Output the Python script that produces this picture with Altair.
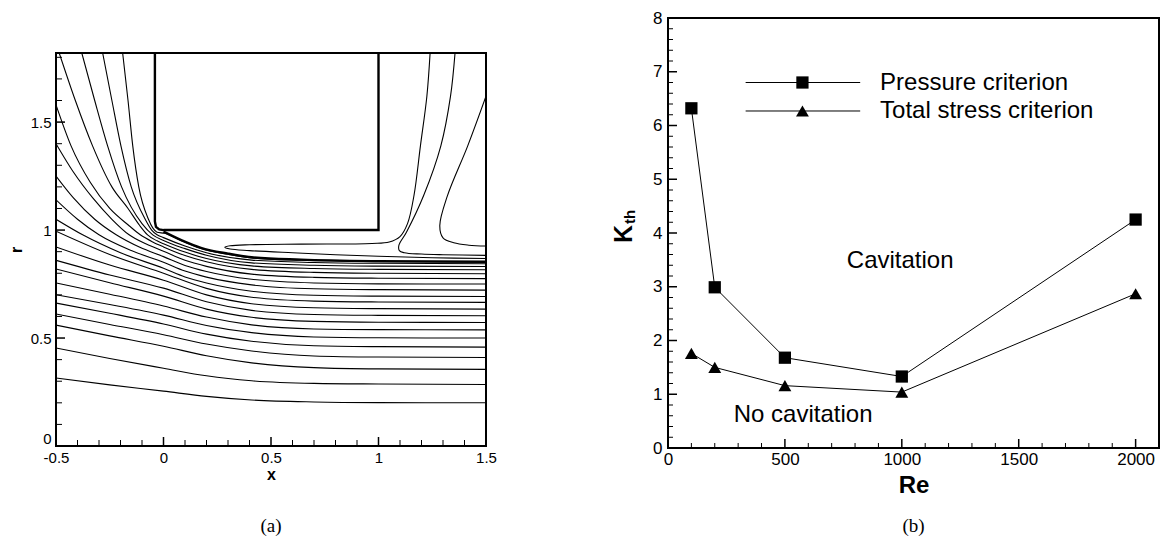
import altair as alt
import pandas as pd

SANS = "Liberation Sans"
SERIF = "Liberation Serif"

# ======================= panel (b) data =======================
re_values = [100, 200, 500, 1000, 2000]
k_pressure = [6.32, 2.99, 1.68, 1.33, 4.25]
k_total_stress = [1.76, 1.50, 1.16, 1.04, 2.87]
series_names = ["Pressure criterion", "Total stress criterion"]

re_major_ticks = [0, 500, 1000, 1500, 2000]
re_minor_ticks = [100, 200, 300, 400, 600, 700, 800, 900, 1100, 1200, 1300, 1400,
                  1600, 1700, 1800, 1900]
k_major_ticks = [0, 1, 2, 3, 4, 5, 6, 7, 8]
k_minor_ticks = [0.2, 0.4, 0.6, 0.8, 1.2, 1.4, 1.6, 1.8, 2.2, 2.4, 2.6, 2.8,
                 3.2, 3.4, 3.6, 3.8, 4.2, 4.4, 4.6, 4.8, 5.2, 5.4, 5.6, 5.8,
                 6.2, 6.4, 6.6, 6.8, 7.2, 7.4, 7.6, 7.8]

legend_line_re = [332, 822]
legend_marker_re = 575
legend_text_re = 907
legend_k = [6.80, 6.27]

note_texts = ["Cavitation", "No cavitation"]
note_re = [993, 578]
note_k = [3.47, 0.62]

# ======================= panel (a) data =======================
x_major_ticks = [-0.5, 0, 0.5, 1, 1.5]
x_minor_ticks = [-0.4, -0.3, -0.2, -0.1, 0.1, 0.2, 0.3, 0.4, 0.6, 0.7, 0.8, 0.9,
                 1.1, 1.2, 1.3, 1.4]
r_major_ticks = [0, 0.5, 1, 1.5]
r_minor_ticks = [0.1, 0.2, 0.3, 0.4, 0.6, 0.7, 0.8, 0.9, 1.1, 1.2, 1.3, 1.4,
                 1.6, 1.7, 1.8]

# streamlines (x, r)
line01 = [(-0.19, 1.82), (-0.165, 1.6), (-0.143, 1.39), (-0.115, 1.2), (-0.07, 1.05),
          (-0.05, 1.01), (-0.03, 0.99), (0.005, 0.985), (0.08, 0.952), (0.174, 0.915),
          (0.3, 0.888), (0.41, 0.871), (0.64, 0.86), (1.0, 0.854), (1.5, 0.851)]
line02 = [(-0.283, 1.82), (-0.24, 1.6), (-0.198, 1.39), (-0.15, 1.2), (-0.085, 1.05),
          (-0.055, 1.0), (-0.03, 0.978), (0.0, 0.965), (0.1, 0.926), (0.2, 0.895),
          (0.41, 0.861), (0.7, 0.85), (1.0, 0.846), (1.5, 0.844)]
line03 = [(-0.38, 1.82), (-0.32, 1.6), (-0.26, 1.39), (-0.195, 1.2), (-0.1, 1.03),
          (-0.05, 0.978), (0.0, 0.952), (0.1, 0.914), (0.2, 0.883), (0.41, 0.848),
          (0.7, 0.837), (1.0, 0.833), (1.5, 0.831)]
line04 = [(-0.485, 1.82), (-0.41, 1.6), (-0.33, 1.39), (-0.24, 1.2), (-0.165, 1.1),
          (-0.11, 1.02), (-0.074, 0.978), (-0.03, 0.95), (0.0, 0.937), (0.1, 0.898),
          (0.2, 0.868), (0.41, 0.834), (0.7, 0.822), (1.0, 0.818), (1.5, 0.816)]
line05 = [(-0.5, 1.58), (-0.43, 1.39), (-0.34, 1.22), (-0.25, 1.1), (-0.16, 1.02),
          (-0.108, 0.978), (-0.05, 0.945), (0.0, 0.922), (0.1, 0.882), (0.2, 0.853),
          (0.41, 0.818), (0.7, 0.804), (1.0, 0.8), (1.5, 0.798)]
line06 = [(-0.5, 1.40), (-0.42, 1.27), (-0.33, 1.15), (-0.24, 1.05), (-0.16, 0.978),
          (-0.08, 0.935), (0.0, 0.902), (0.1, 0.86), (0.2, 0.832), (0.41, 0.796),
          (0.7, 0.781), (1.0, 0.777), (1.5, 0.775)]
line07 = [(-0.5, 1.25), (-0.42, 1.15), (-0.32, 1.05), (-0.22, 0.978), (-0.11, 0.92),
          (0.0, 0.877), (0.1, 0.836), (0.2, 0.808), (0.41, 0.772), (0.7, 0.755),
          (1.0, 0.751), (1.5, 0.75)]
line08 = [(-0.5, 1.14), (-0.4, 1.05), (-0.3, 0.978), (-0.15, 0.905), (0.0, 0.851),
          (0.1, 0.81), (0.2, 0.782), (0.41, 0.746), (0.7, 0.728), (1.0, 0.724), (1.5, 0.722)]
line09 = [(-0.5, 1.05), (-0.376, 0.978), (-0.2, 0.895), (0.0, 0.823), (0.1, 0.783),
          (0.2, 0.755), (0.41, 0.717), (0.7, 0.698), (1.0, 0.694), (1.5, 0.692)]
line10 = [(-0.5, 0.995), (-0.25, 0.887), (0.0, 0.80), (0.2, 0.73), (0.41, 0.689),
          (0.7, 0.671), (1.0, 0.667), (1.5, 0.665)]
line11 = [(-0.5, 0.922), (-0.25, 0.838), (0.0, 0.768), (0.2, 0.70), (0.41, 0.659),
          (0.7, 0.64), (1.0, 0.636), (1.5, 0.634)]
line12 = [(-0.5, 0.86), (-0.25, 0.792), (0.0, 0.731), (0.2, 0.668), (0.41, 0.628),
          (0.7, 0.609), (1.0, 0.605), (1.5, 0.603)]
line13 = [(-0.5, 0.82), (-0.25, 0.756), (0.0, 0.694), (0.2, 0.634), (0.41, 0.596),
          (0.7, 0.577), (1.0, 0.573), (1.5, 0.572)]
line14 = [(-0.5, 0.755), (-0.25, 0.703), (0.0, 0.648), (0.2, 0.597), (0.41, 0.561),
          (0.7, 0.542), (1.0, 0.539), (1.5, 0.538)]
line15 = [(-0.5, 0.70), (-0.25, 0.655), (0.0, 0.606), (0.2, 0.558), (0.41, 0.525),
          (0.7, 0.505), (1.0, 0.501), (1.5, 0.50)]
line16 = [(-0.5, 0.662), (-0.25, 0.615), (0.0, 0.565), (0.2, 0.518), (0.41, 0.485),
          (0.7, 0.464), (1.0, 0.46), (1.5, 0.458)]
line17 = [(-0.5, 0.611), (-0.25, 0.563), (0.0, 0.515), (0.2, 0.472), (0.41, 0.44),
          (0.7, 0.417), (1.0, 0.412), (1.5, 0.41)]
line18 = [(-0.5, 0.56), (-0.25, 0.51), (0.0, 0.462), (0.2, 0.418), (0.41, 0.385),
          (0.7, 0.363), (1.0, 0.357), (1.5, 0.355)]
line19 = [(-0.5, 0.454), (-0.25, 0.405), (0.0, 0.36), (0.2, 0.325), (0.41, 0.302),
          (0.7, 0.29), (1.0, 0.287), (1.5, 0.285)]
line20 = [(-0.5, 0.315), (-0.25, 0.283), (0.0, 0.254), (0.2, 0.23), (0.41, 0.213),
          (0.7, 0.204), (1.0, 0.201), (1.5, 0.2)]

# dividing streamline from the corner (drawn thick)
separating_line = [(0.0, 0.993), (0.08, 0.955), (0.174, 0.918), (0.3, 0.891), (0.41, 0.874),
                   (0.64, 0.863), (1.0, 0.856), (1.5, 0.853)]

# recirculation / wake streamlines (not monotone in x)
wake1 = [(1.24, 1.82), (1.225, 1.62), (1.195, 1.39), (1.165, 1.16), (1.135, 1.03),
         (1.10, 0.97), (1.05, 0.945), (0.97, 0.938), (0.64, 0.935), (0.40, 0.932),
         (0.31, 0.927), (0.285, 0.92), (0.31, 0.912), (0.40, 0.905), (0.6, 0.895),
         (0.8, 0.886), (1.0, 0.879), (1.25, 0.872), (1.5, 0.868)]
wake2 = [(1.356, 1.82), (1.335, 1.62), (1.29, 1.39), (1.21, 1.16), (1.13, 0.99),
         (1.095, 0.93), (1.097, 0.905), (1.12, 0.895), (1.2, 0.889), (1.3, 0.886), (1.5, 0.883)]
wake3 = [(1.5, 1.62), (1.415, 1.39), (1.32, 1.157), (1.285, 1.02), (1.30, 0.964),
         (1.35, 0.941), (1.42, 0.93), (1.5, 0.926)]

# body outline
body = [(-0.04, 1.82), (-0.04, 1.04), (-0.035, 1.015), (-0.02, 1.003), (0.0, 1.0),
        (1.0, 1.0), (1.0, 1.82)]


def to_frame(named):
    rows = []
    for name, pts in named.items():
        for i, (x, r) in enumerate(pts):
            rows.append({"line": name, "ord": i, "x": x, "r": r})
    return pd.DataFrame(rows)


stream_df = to_frame({
    "l01": line01, "l02": line02, "l03": line03, "l04": line04, "l05": line05,
    "l06": line06, "l07": line07, "l08": line08, "l09": line09, "l10": line10,
    "l11": line11, "l12": line12, "l13": line13, "l14": line14, "l15": line15,
    "l16": line16, "l17": line17, "l18": line18, "l19": line19, "l20": line20,
})
sep_df = to_frame({"sep": separating_line})
wake_df = to_frame({"w1": wake1, "w2": wake2, "w3": wake3})
body_df = to_frame({"body": body})

# ======================= panel (a) chart =======================
WA, HA = 430, 393
xs_a = alt.Scale(domain=[-0.5, 1.5], nice=False, zero=False)
rs_a = alt.Scale(domain=[0, 1.82], nice=False, zero=False)

ax_xa = alt.Axis(values=x_major_ticks, title="x", titleFont=SANS, titleFontSize=16,
                 titleFontWeight="bold", titleColor="black", labelFont=SANS,
                 labelFontSize=15, labelColor="black", ticks=False, tickSize=0,
                 domain=False, grid=False, labelFlush=False, labelPadding=4,
                 titlePadding=1,
                 labelExpr="datum.value < 0 ? '-' + format(-datum.value, '~g') : format(datum.value, '~g')")
ax_ra = alt.Axis(values=r_major_ticks, title="r", titleFont=SANS, titleFontSize=16,
                 titleFontWeight="bold", titleColor="black", labelFont=SANS,
                 labelFontSize=15, labelColor="black", ticks=False, tickSize=0,
                 domain=False, grid=False, labelFlush=False, labelPadding=5,
                 titlePadding=6, labelExpr="format(datum.value, '~g')",
                 labelBaseline={"condition": {"test": "datum.value === 0", "value": "bottom"},
                                "value": "middle"})

streams = alt.Chart(stream_df).mark_line(
    color="black", strokeWidth=1.1, interpolate="monotone", clip=True
).encode(
    x=alt.X("x:Q", scale=xs_a, axis=ax_xa),
    y=alt.Y("r:Q", scale=rs_a, axis=ax_ra),
    detail="line:N", order="ord:Q",
)
sep = alt.Chart(sep_df).mark_line(
    color="black", strokeWidth=2.4, interpolate="monotone", clip=True
).encode(x=alt.X("x:Q", title="x"), y=alt.Y("r:Q", title="r"), order="ord:Q")
wakes = alt.Chart(wake_df).mark_line(
    color="black", strokeWidth=1.1, interpolate="catmull-rom", clip=True
).encode(x=alt.X("x:Q", title="x"), y=alt.Y("r:Q", title="r"), detail="line:N", order="ord:Q")
body_line = alt.Chart(body_df).mark_line(
    color="black", strokeWidth=2.4, interpolate="linear", clip=True
).encode(x=alt.X("x:Q", title="x"), y=alt.Y("r:Q", title="r"), order="ord:Q")

xa_maj = alt.Chart(pd.DataFrame({"x": x_major_ticks})).mark_rule(color="black", strokeWidth=1.5).encode(
    x=alt.X("x:Q", title="x"), y=alt.value(HA), y2=alt.value(HA - 9))
xa_min = alt.Chart(pd.DataFrame({"x": x_minor_ticks})).mark_rule(color="black", strokeWidth=1).encode(
    x=alt.X("x:Q", title="x"), y=alt.value(HA), y2=alt.value(HA - 6))
ra_maj = alt.Chart(pd.DataFrame({"r": r_major_ticks})).mark_rule(color="black", strokeWidth=1.5).encode(
    y=alt.Y("r:Q", title="r"), x=alt.value(0), x2=alt.value(9))
ra_min = alt.Chart(pd.DataFrame({"r": r_minor_ticks})).mark_rule(color="black", strokeWidth=1).encode(
    y=alt.Y("r:Q", title="r"), x=alt.value(0), x2=alt.value(6))

cap_a = alt.Chart(pd.DataFrame({"t": ["(a)"]})).mark_text(
    font=SERIF, fontSize=19, color="black", align="center", baseline="middle"
).encode(text="t:N", x=alt.value(WA / 2), y=alt.value(473))

panel_a = alt.layer(streams, sep, wakes, body_line, xa_maj, xa_min, ra_maj, ra_min, cap_a).properties(
    width=WA, height=HA)

spacer = alt.Chart(pd.DataFrame({"a": [0]})).mark_point(opacity=0).encode(
    x=alt.value(0), y=alt.value(0)
).properties(width=WA, height=35, view=alt.ViewBackground(strokeOpacity=0))

left_col = alt.vconcat(spacer, panel_a, spacing=0, bounds="flush")

# ======================= panel (b) chart =======================
WB, HB = 491, 430
xs_b = alt.Scale(domain=[0, 2100], nice=False, zero=False)
ks_b = alt.Scale(domain=[0, 8], nice=False, zero=False)

ax_xb = alt.Axis(values=re_major_ticks, title="Re", titleFont=SANS, titleFontSize=24,
                 titleFontWeight="bold", titleColor="black", labelFont=SANS,
                 labelFontSize=17, labelColor="black", ticks=False, tickSize=0,
                 domain=False, grid=False, labelFlush=False, labelPadding=3,
                 titlePadding=6, format="d")
ax_kb = alt.Axis(values=k_major_ticks, title="", labelFont=SANS,
                 labelFontSize=17, labelColor="black", ticks=False, tickSize=0,
                 domain=False, grid=False, labelFlush=False, labelPadding=6, format="d")

b_df = pd.DataFrame({
    "Re": re_values + re_values,
    "K": k_pressure + k_total_stress,
    "series": [series_names[0]] * len(re_values) + [series_names[1]] * len(re_values),
})

b_lines = alt.Chart(b_df).mark_line(color="black", strokeWidth=1).encode(
    x=alt.X("Re:Q", scale=xs_b, axis=ax_xb),
    y=alt.Y("K:Q", scale=ks_b, axis=ax_kb),
    detail="series:N",
)
b_sq = alt.Chart(b_df).transform_filter(alt.datum.series == series_names[0]).mark_point(
    shape="square", filled=True, size=150, color="black", opacity=1
).encode(x=alt.X("Re:Q", title="Re"), y=alt.Y("K:Q", title=""))
b_tri = alt.Chart(b_df).transform_filter(alt.datum.series == series_names[1]).mark_point(
    shape="triangle-up", filled=True, size=165, color="black", opacity=1
).encode(x=alt.X("Re:Q", title="Re"), y=alt.Y("K:Q", title=""))

leg_lines_df = pd.DataFrame({
    "Re": legend_line_re + legend_line_re,
    "K": [legend_k[0]] * 2 + [legend_k[1]] * 2,
    "series": [series_names[0]] * 2 + [series_names[1]] * 2,
})
leg_lines = alt.Chart(leg_lines_df).mark_line(color="black", strokeWidth=1).encode(
    x=alt.X("Re:Q", title="Re"), y=alt.Y("K:Q", title=""), detail="series:N")
leg_sq = alt.Chart(pd.DataFrame({"Re": [legend_marker_re], "K": [legend_k[0]]})).mark_point(
    shape="square", filled=True, size=150, color="black", opacity=1
).encode(x=alt.X("Re:Q", title="Re"), y=alt.Y("K:Q", title=""))
leg_tri = alt.Chart(pd.DataFrame({"Re": [legend_marker_re], "K": [legend_k[1]]})).mark_point(
    shape="triangle-up", filled=True, size=165, color="black", opacity=1
).encode(x=alt.X("Re:Q", title="Re"), y=alt.Y("K:Q", title=""))
leg_text = alt.Chart(pd.DataFrame({"Re": [legend_text_re] * 2, "K": legend_k, "t": series_names})).mark_text(
    font=SANS, fontSize=24, color="black", align="left", baseline="middle"
).encode(x=alt.X("Re:Q", title="Re"), y=alt.Y("K:Q", title=""), text="t:N")

notes = alt.Chart(pd.DataFrame({"Re": note_re, "K": note_k, "t": note_texts})).mark_text(
    font=SANS, fontSize=24, color="black", align="center", baseline="middle"
).encode(x=alt.X("Re:Q", title="Re"), y=alt.Y("K:Q", title=""), text="t:N")

xb_maj = alt.Chart(pd.DataFrame({"Re": re_major_ticks})).mark_rule(color="black", strokeWidth=1.5).encode(
    x=alt.X("Re:Q", title="Re"), y=alt.value(HB), y2=alt.value(HB - 9))
xb_min = alt.Chart(pd.DataFrame({"Re": re_minor_ticks})).mark_rule(color="black", strokeWidth=1).encode(
    x=alt.X("Re:Q", title="Re"), y=alt.value(HB), y2=alt.value(HB - 5))
kb_maj = alt.Chart(pd.DataFrame({"K": k_major_ticks})).mark_rule(color="black", strokeWidth=1.5).encode(
    y=alt.Y("K:Q", title=""), x=alt.value(0), x2=alt.value(9))
kb_min = alt.Chart(pd.DataFrame({"K": k_minor_ticks})).mark_rule(color="black", strokeWidth=1).encode(
    y=alt.Y("K:Q", title=""), x=alt.value(0), x2=alt.value(5))

k_title = alt.Chart(pd.DataFrame({"t": ["K"]})).mark_text(
    font=SANS, fontSize=25, fontWeight="bold", color="black", angle=270,
    align="center", baseline="middle"
).encode(text="t:N", x=alt.value(-44), y=alt.value(216))
k_sub = alt.Chart(pd.DataFrame({"t": ["th"]})).mark_text(
    font=SANS, fontSize=15, fontWeight="bold", color="black", angle=270,
    align="center", baseline="middle"
).encode(text="t:N", x=alt.value(-38), y=alt.value(199))

cap_b = alt.Chart(pd.DataFrame({"t": ["(b)"]})).mark_text(
    font=SERIF, fontSize=19, color="black", align="center", baseline="middle"
).encode(text="t:N", x=alt.value(WB / 2), y=alt.value(508))

panel_b = alt.layer(b_lines, b_sq, b_tri, leg_lines, leg_sq, leg_tri, leg_text, notes,
                    xb_maj, xb_min, kb_maj, kb_min, k_title, k_sub, cap_b).properties(
    width=WB, height=HB)

# the nested left column is laid out with zero width under flush bounds,
# so the gap to the right panel includes the left plot width
chart = alt.hconcat(left_col, panel_b, spacing=WA + 182, bounds="flush").properties(
    padding={"left": 7, "top": 8, "right": 0, "bottom": 0},
    background="white",
).configure_view(stroke="black", strokeWidth=2)

chart.save("out.html", embed_options={"renderer": "svg", "actions": False})
